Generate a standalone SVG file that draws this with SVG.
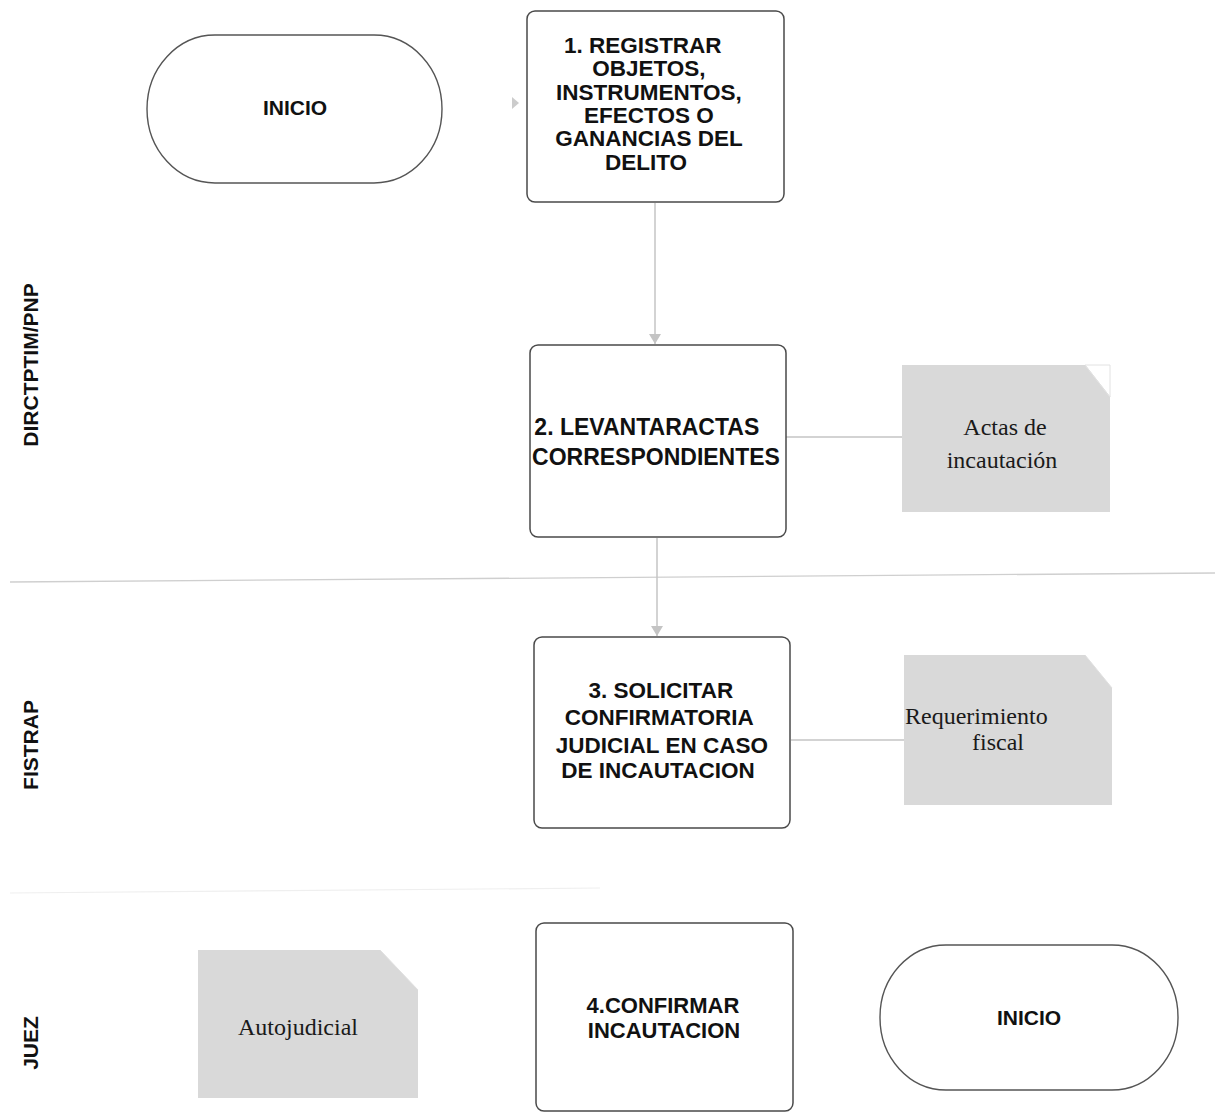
<svg xmlns="http://www.w3.org/2000/svg" width="1215" height="1113" viewBox="0 0 1215 1113">
  <style>
    .proc { fill: #ffffff; stroke: #4a4a4a; stroke-width: 1.5; }
    .term { fill: #ffffff; stroke: #555555; stroke-width: 1.4; }
    .doc { fill: #d9d9d9; stroke: none; }
    .fold { fill: #ffffff; stroke: #e2e2e2; stroke-width: 1; }
    .lbl { font-family: "Liberation Sans", Arial, sans-serif; font-weight: bold; fill: #111111; text-anchor: middle; }
    .doctxt { font-family: "Liberation Serif", "Times New Roman", serif; fill: #1a1a1a; font-size: 24px; }
    .lane { font-family: "Liberation Sans", Arial, sans-serif; font-weight: bold; font-size: 21px; fill: #111111; text-anchor: middle; }
    .conn { stroke: #c4c4c4; stroke-width: 1.5; fill: none; }
    .sep { stroke: #cfcfcf; stroke-width: 1.3; fill: none; }
  </style>
  <defs>
    <marker id="arrow" viewBox="0 0 10 12" refX="10" refY="6" markerWidth="10" markerHeight="12" markerUnits="userSpaceOnUse" orient="auto">
      <path d="M0,0 L10,6 L0,12 Z" fill="#c4c4c4"/>
    </marker>
  </defs>

  <rect width="1215" height="1113" fill="#ffffff"/>

  <!-- lane separators -->
  <g id="lanes">
    <line class="sep" x1="10" y1="582" x2="1215" y2="573"/>
    <line x1="10" y1="893" x2="600" y2="888" stroke="#efefef" stroke-width="1.2"/>
    <text class="lane" transform="translate(38,365) rotate(-90)">DIRCTPTIM/PNP</text>
    <text class="lane" transform="translate(38,745) rotate(-90)">FISTRAP</text>
    <text class="lane" transform="translate(38,1043) rotate(-90)">JUEZ</text>
  </g>

  <!-- connectors -->
  <g id="connectors">
    <path d="M512,97 L519,103 L512,109 Z" fill="#cccccc"/>
    <line class="conn" x1="655" y1="203" x2="655" y2="344" marker-end="url(#arrow)"/>
    <line class="conn" x1="657" y1="538" x2="657" y2="636" marker-end="url(#arrow)"/>
    <line class="conn" x1="786" y1="437" x2="902" y2="437"/>
    <line class="conn" x1="791" y1="740" x2="904" y2="740"/>
  </g>

  <!-- start terminator -->
  <g id="inicio-start">
    <rect class="term" x="147" y="35" width="295" height="148" rx="68" ry="74"/>
    <text class="lbl" x="295" y="115" font-size="21">INICIO</text>
  </g>

  <!-- step 1 -->
  <g id="step1">
    <rect class="proc" x="527" y="11" width="257" height="191" rx="8"/>
    <text class="lbl" font-size="22.5">
      <tspan x="646" y="53">1. REGISTRAR</tspan>
      <tspan x="652" y="76">OBJETOS,</tspan>
      <tspan x="652" y="100">INSTRUMENTOS,</tspan>
      <tspan x="652" y="123">EFECTOS O</tspan>
      <tspan x="652" y="146">GANANCIAS DEL</tspan>
      <tspan x="646" y="170">DELITO</tspan>
    </text>
  </g>

  <!-- step 2 -->
  <g id="step2">
    <rect class="proc" x="530" y="345" width="256" height="192" rx="8"/>
    <text class="lbl" font-size="23">
      <tspan x="650" y="435">2. LEVANTARACTAS</tspan>
      <tspan x="656" y="465">CORRESPONDIENTES</tspan>
    </text>
  </g>

  <!-- document: actas -->
  <g id="doc-actas">
    <path class="doc" d="M902,365 L1085,365 L1110,397 L1110,512 L902,512 Z"/>
    <path class="fold" d="M1085,365 L1110,365 L1110,397 Z" stroke="none"/>
    <line x1="1085" y1="365" x2="1110" y2="397" stroke="#e0e0e0" stroke-width="1"/>
    <text class="doctxt" text-anchor="middle">
      <tspan x="1008" y="435">Actas de</tspan>
      <tspan x="1002" y="468">incautación</tspan>
    </text>
  </g>

  <!-- step 3 -->
  <g id="step3">
    <rect class="proc" x="534" y="637" width="256" height="191" rx="8"/>
    <text class="lbl" font-size="22.5">
      <tspan x="664" y="698">3. SOLICITAR</tspan>
      <tspan x="662" y="725">CONFIRMATORIA</tspan>
      <tspan x="665" y="753">JUDICIAL EN CASO</tspan>
      <tspan x="658" y="778">DE INCAUTACION</tspan>
    </text>
  </g>

  <!-- document: requerimiento -->
  <g id="doc-requerimiento">
    <path class="doc" d="M904,655 L1085,655 L1112,688 L1112,805 L904,805 Z"/>
    <line x1="1085" y1="655" x2="1112" y2="688" stroke="#e0e0e0" stroke-width="1"/>
    <text class="doctxt">
      <tspan x="905" y="724">Requerimiento</tspan>
      <tspan x="972" y="750">fiscal</tspan>
    </text>
  </g>

  <!-- document: auto judicial -->
  <g id="doc-auto">
    <path class="doc" d="M198,950 L380,950 L418,990 L418,1098 L198,1098 Z"/>
    <line x1="380" y1="950" x2="418" y2="990" stroke="#e0e0e0" stroke-width="1"/>
    <text class="doctxt" x="298" y="1035" text-anchor="middle">Autojudicial</text>
  </g>

  <!-- step 4 -->
  <g id="step4">
    <rect class="proc" x="536" y="923" width="257" height="188" rx="8"/>
    <text class="lbl" font-size="22">
      <tspan x="666" y="1013">4.CONFIRMAR</tspan>
      <tspan x="664" y="1038">INCAUTACION</tspan>
    </text>
  </g>

  <!-- end terminator -->
  <g id="inicio-end">
    <rect class="term" x="880" y="945" width="298" height="145" rx="66" ry="72"/>
    <text class="lbl" x="1029" y="1025" font-size="21">INICIO</text>
  </g>
</svg>
